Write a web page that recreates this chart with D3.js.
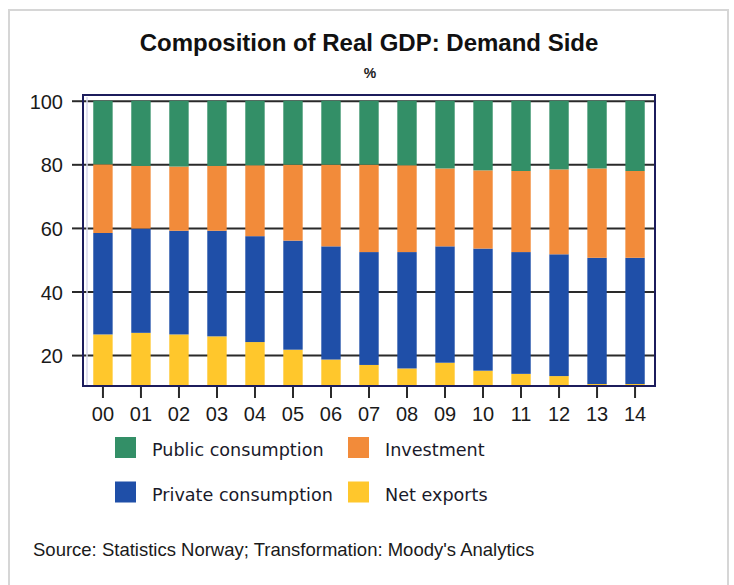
<!DOCTYPE html>
<html>
<head>
<meta charset="utf-8">
<script src="https://cdn.jsdelivr.net/npm/d3@7"></script>
<style>
  html, body { margin: 0; padding: 0; background: #fff; }
  svg { display: block; }
</style>
</head>
<body>
<div id="chart"></div>
<script>
// Composition of Real GDP: Demand Side (Norway), shares in %
const years = ["00","01","02","03","04","05","06","07","08","09","10","11","12","13","14"];
const netExports  = [26.5, 27.0, 26.5, 25.9, 24.1, 21.7, 18.6, 16.9, 15.8, 17.6, 15.1, 14.1, 13.4, 10.9, 10.9];
const privateCons = [31.9, 32.8, 32.6, 33.2, 33.3, 34.3, 35.6, 35.5, 36.6, 36.6, 38.4, 38.3, 38.3, 39.7, 39.7];
const investment  = [21.6, 19.7, 20.2, 20.4, 22.3, 23.9, 25.7, 27.5, 27.3, 24.5, 24.6, 25.5, 26.7, 28.1, 27.3];
const publicCons  = [20.0, 20.5, 20.7, 20.5, 20.3, 20.1, 20.1, 20.1, 20.3, 21.3, 21.9, 22.1, 21.6, 21.3, 22.1];
const yTicks = [20, 40, 60, 80, 100];

const seriesKeys = ["net", "private", "investment", "public"];
const seriesNames = { public: "Public consumption", investment: "Investment", private: "Private consumption", net: "Net exports" };
const colors = { public: "#338f67", investment: "#f28b3a", private: "#1f4fa8", net: "#ffc72c" };

const rows = years.map((yr, i) => ({
  year: yr, net: netExports[i], private: privateCons[i], investment: investment[i], public: publicCons[i]
}));

const width = 734, height = 585;
const plot = { left: 83, right: 655, top: 95, bottom: 386 };

const svg = d3.select("#chart").append("svg")
  .attr("width", width).attr("height", height);

// outer frame
svg.append("rect")
  .attr("x", 9).attr("y", 10).attr("width", 719).attr("height", 600)
  .attr("fill", "none").attr("stroke", "#d6d6d6").attr("stroke-width", 2);

// title
svg.append("text")
  .attr("x", 369).attr("y", 51)
  .attr("text-anchor", "middle")
  .attr("font-family", "Liberation Sans, Arial, sans-serif")
  .attr("font-weight", "bold").attr("font-size", 24)
  .attr("fill", "#111")
  .text("Composition of Real GDP: Demand Side");

svg.append("text")
  .attr("x", 370).attr("y", 78)
  .attr("text-anchor", "middle")
  .attr("font-family", "Liberation Sans, Arial, sans-serif")
  .attr("font-weight", "bold").attr("font-size", 14)
  .attr("fill", "#222")
  .text("%");

const x = d3.scaleBand()
  .domain(years)
  .range([plot.left, plot.right])
  .paddingInner(0.49)
  .paddingOuter(0.27);

const y = d3.scaleLinear()
  .domain([10.28, 101.8])
  .range([plot.bottom, plot.top]);

svg.append("defs").append("clipPath").attr("id", "plotClip")
  .append("rect")
  .attr("x", plot.left).attr("y", plot.top)
  .attr("width", plot.right - plot.left).attr("height", plot.bottom - plot.top);

// gridlines + y ticks (behind bars)
const yAxis = svg.append("g").attr("transform", `translate(${plot.left},0)`)
  .call(d3.axisLeft(y).tickValues(yTicks).tickSize(11).tickPadding(9).tickSizeOuter(0));
yAxis.select(".domain").remove();
yAxis.selectAll(".tick line").clone()
  .attr("x1", 0).attr("x2", plot.right - plot.left);
yAxis.selectAll(".tick line")
  .attr("stroke", "#2a2a2a").attr("stroke-width", 2);
yAxis.selectAll(".tick text")
  .attr("font-family", "Liberation Sans, Arial, sans-serif")
  .attr("font-size", 20).attr("fill", "#1a1a1a")
  .attr("dy", "0.38em");

// bars
const stack = d3.stack().keys(seriesKeys)(rows);
const barsG = svg.append("g").attr("clip-path", "url(#plotClip)");
barsG.selectAll("g.series")
  .data(stack)
  .join("g")
  .attr("class", "series")
  .attr("fill", d => colors[d.key])
  .selectAll("rect")
  .data(d => d)
  .join("rect")
  .attr("x", d => x(d.data.year))
  .attr("width", x.bandwidth())
  .attr("y", d => y(d[1]))
  .attr("height", d => y(d[0]) - y(d[1]));

// x ticks
const xAxis = svg.append("g").attr("transform", `translate(0,${plot.bottom})`)
  .call(d3.axisBottom(x).tickSize(12).tickPadding(9).tickSizeOuter(0));
xAxis.select(".domain").remove();
xAxis.selectAll(".tick line").attr("stroke", "#2a2a2a").attr("stroke-width", 2);
xAxis.selectAll(".tick text")
  .attr("font-family", "Liberation Sans, Arial, sans-serif")
  .attr("font-size", 20).attr("fill", "#1a1a1a");

// plot border
svg.append("line")
  .attr("x1", plot.left + 4).attr("x2", plot.left + 4)
  .attr("y1", plot.top + 2).attr("y2", plot.bottom - 1)
  .attr("stroke", "#d9d9ec").attr("stroke-width", 1.5);
svg.append("rect")
  .attr("x", plot.left).attr("y", plot.top)
  .attr("width", plot.right - plot.left).attr("height", plot.bottom - plot.top)
  .attr("fill", "none").attr("stroke", "#1c1c5c").attr("stroke-width", 2);

// legend
const legendItems = [
  { key: "public", col: 0, row: 0 },
  { key: "investment", col: 1, row: 0 },
  { key: "private", col: 0, row: 1 },
  { key: "net", col: 1, row: 1 }
];
const legend = svg.append("g");
const item = legend.selectAll("g")
  .data(legendItems)
  .join("g")
  .attr("transform", d => `translate(${115 + d.col * 233},${437 + d.row * 44.5})`);
item.append("rect")
  .attr("width", 21).attr("height", 21)
  .attr("fill", d => colors[d.key]);
item.append("text")
  .attr("x", 37).attr("y", 19)
  .attr("font-family", "DejaVu Sans, Verdana, sans-serif")
  .attr("font-size", 17.6).attr("fill", "#1a1a2a")
  .text(d => seriesNames[d.key]);

// source
svg.append("text")
  .attr("x", 33).attr("y", 556)
  .attr("font-family", "Liberation Sans, Arial, sans-serif")
  .attr("font-size", 18.5).attr("fill", "#1a1a1a")
  .text("Source: Statistics Norway; Transformation: Moody's Analytics");
</script>
</body>
</html>
